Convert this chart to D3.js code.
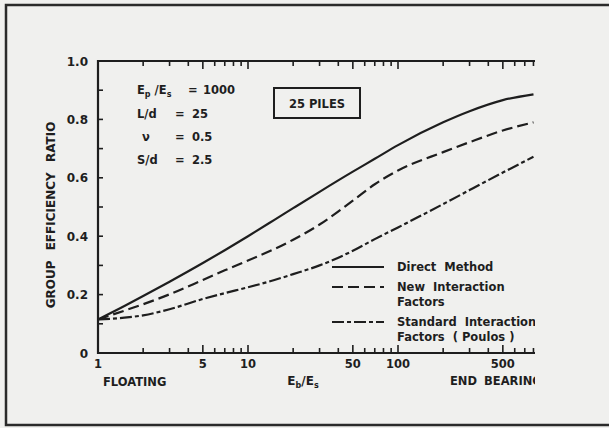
<!DOCTYPE html>
<html>
<head>
<meta charset="utf-8">
<script src="https://cdn.jsdelivr.net/npm/d3@7"></script>
<style>
  html, body { margin: 0; padding: 0; background: #f0f0ee; }
  svg { display: block; }
  text { font-family: "DejaVu Sans", "Liberation Sans", Arial, sans-serif; font-weight: bold; fill: #1e1e1e; }
</style>
</head>
<body>
<svg id="chart" width="609" height="428"></svg>
<script>
// ---- data ----
const xValues = [1, 1.5, 2, 3, 5, 7, 10, 15, 20, 30, 50, 70, 100, 200, 300, 500, 800];
const directMethod =        [0.115, 0.161, 0.195, 0.244, 0.308, 0.352, 0.40, 0.456, 0.496, 0.552, 0.621, 0.665, 0.712, 0.79, 0.828, 0.866, 0.886];
const newInteraction =      [0.115, 0.145, 0.167, 0.201, 0.25, 0.283, 0.317, 0.356, 0.388, 0.44, 0.522, 0.578, 0.625, 0.688, 0.722, 0.762, 0.79];
const standardInteraction = [0.115, 0.121, 0.129, 0.15, 0.185, 0.205, 0.225, 0.25, 0.27, 0.30, 0.35, 0.39, 0.43, 0.51, 0.558, 0.618, 0.672];
const yTickLabels = [0, 0.2, 0.4, 0.6, 0.8, 1.0];
const yMinorTicks = [0.1, 0.2, 0.3, 0.4, 0.5, 0.6, 0.7, 0.8, 0.9];
const xTickLabels = [1, 5, 10, 50, 100, 500];
const xMinorTicks = [2,3,4,5,6,7,8,9,10,20,30,40,50,60,70,80,90,100,200,300,400,500,600,700,800];
const xMajorTicks = [5, 10, 50, 100, 500];
const seriesNames = ["Direct  Method", "New  Interaction", "Standard  Interaction"];
const paramLines = ["Ep/Es = 1000", "L/d = 25", "ν = 0.5", "S/d = 2.5"];

// ---- layout ----
const svg = d3.select("#chart");
const X0 = 98, Y0 = 353, YTOP = 61, XEND = 535;
const x = d3.scaleLog().domain([1, 1000]).range([X0, 548]);
const y = d3.scaleLinear().domain([0, 1]).range([Y0, YTOP]);
const ink = "#1e1e1e";

// outer frame
svg.append("rect").attr("x", 6).attr("y", 5).attr("width", 640).attr("height", 420)
  .attr("fill", "#f0f0ee").attr("stroke", "#2a2a2a").attr("stroke-width", 2.5);

svg.append("defs").append("clipPath").attr("id", "clipR")
  .append("rect").attr("x", 0).attr("y", 0).attr("width", XEND).attr("height", 428);

const g = svg.append("g").attr("clip-path", "url(#clipR)");

// axes lines: left, bottom, top
g.append("path")
  .attr("d", `M${XEND},${YTOP} L${X0},${YTOP} L${X0},${Y0} L${XEND},${Y0}`)
  .attr("fill", "none").attr("stroke", ink).attr("stroke-width", 2.2);

// x ticks (bottom up, top down)
xMinorTicks.forEach(v => {
  const len = xMajorTicks.includes(v) ? 8 : 5;
  g.append("line").attr("x1", x(v)).attr("x2", x(v)).attr("y1", Y0).attr("y2", Y0 - len)
    .attr("stroke", ink).attr("stroke-width", 1.6);
  g.append("line").attr("x1", x(v)).attr("x2", x(v)).attr("y1", YTOP).attr("y2", YTOP + len)
    .attr("stroke", ink).attr("stroke-width", 1.6);
});
// y ticks (inward)
yMinorTicks.forEach(v => {
  g.append("line").attr("x1", X0).attr("x2", X0 + 5).attr("y1", y(v)).attr("y2", y(v))
    .attr("stroke", ink).attr("stroke-width", 1.6);
});

// y labels
yTickLabels.forEach(v => {
  g.append("text").attr("x", 88).attr("y", y(v) + 4.5).attr("text-anchor", "end")
    .attr("font-size", 12).text(v === 0 ? "0" : v.toFixed(1));
});
// x labels
xTickLabels.forEach(v => {
  g.append("text").attr("x", x(v)).attr("y", 368).attr("text-anchor", "middle")
    .attr("font-size", 11.5).text(v);
});

// axis titles
g.append("text").attr("transform", "translate(55,215) rotate(-90)")
  .attr("text-anchor", "middle").attr("font-size", 12).attr("word-spacing", 6)
  .text("GROUP EFFICIENCY RATIO");
g.append("text").attr("x", 103).attr("y", 386).attr("font-size", 11.5).text("FLOATING");
const xl = g.append("text").attr("x", 303).attr("y", 385).attr("text-anchor", "middle").attr("font-size", 12);
xl.append("tspan").text("E");
xl.append("tspan").attr("font-size", 8).attr("dy", 3).text("b");
xl.append("tspan").attr("dy", -3).text("/E");
xl.append("tspan").attr("font-size", 8).attr("dy", 3).text("s");
g.append("text").attr("x", 450).attr("y", 385).attr("font-size", 11.5).attr("word-spacing", 3).text("END BEARING");

// parameter annotations
const pY = [94, 118, 141, 164];
paramLines.forEach((s, i) => {
  const t = g.append("text").attr("x", 137).attr("y", pY[i]).attr("font-size", 11.5).attr("xml:space", "preserve");
  if (i === 0) {
    t.append("tspan").text("E");
    t.append("tspan").attr("font-size", 8).attr("dy", 3).text("p");
    t.append("tspan").attr("dy", -3).text(" /E");
    t.append("tspan").attr("font-size", 8).attr("dy", 3).text("s");
    t.append("tspan").attr("dy", -3).attr("x", 188).text("=");
    t.append("tspan").attr("x", 203).text("1000");
  } else {
    const parts = s.split(" = ");
    t.append("tspan").attr("x", i === 2 ? 142 : 137).text(parts[0]);
    t.append("tspan").attr("x", 175).text("=");
    t.append("tspan").attr("x", 192).text(parts[1]);
  }
});

// 25 PILES box
g.append("rect").attr("x", 274).attr("y", 88).attr("width", 86).attr("height", 30)
  .attr("fill", "none").attr("stroke", ink).attr("stroke-width", 2);
g.append("text").attr("x", 317).attr("y", 108).attr("text-anchor", "middle").attr("font-size", 11.5)
  .text("25 PILES");

// curves
const dashes = [null, "11,5", "12,3,4,3"];
const series = [directMethod, newInteraction, standardInteraction];
const line = d3.line().x(d => x(d[0])).y(d => y(d[1])).curve(d3.curveMonotoneX);
series.forEach((vals, i) => {
  g.append("path").datum(xValues.map((xv, k) => [xv, vals[k]]))
    .attr("d", line).attr("fill", "none").attr("stroke", ink).attr("stroke-width", 2.2)
    .attr("stroke-dasharray", dashes[i]);
});

// legend
const legY = [267, 287, 322];
const legText = [[seriesNames[0]], [seriesNames[1], "Factors"], [seriesNames[2], "Factors  ( Poulos )"]];
legY.forEach((ly, i) => {
  g.append("line").attr("x1", 332).attr("x2", 384).attr("y1", ly).attr("y2", ly)
    .attr("stroke", ink).attr("stroke-width", 2.2).attr("stroke-dasharray", dashes[i]);
  legText[i].forEach((s, j) => {
    g.append("text").attr("x", 397).attr("y", ly + 4 + j * 15).attr("font-size", 11.5)
      .attr("xml:space", "preserve").text(s);
  });
});
</script>
</body>
</html>
